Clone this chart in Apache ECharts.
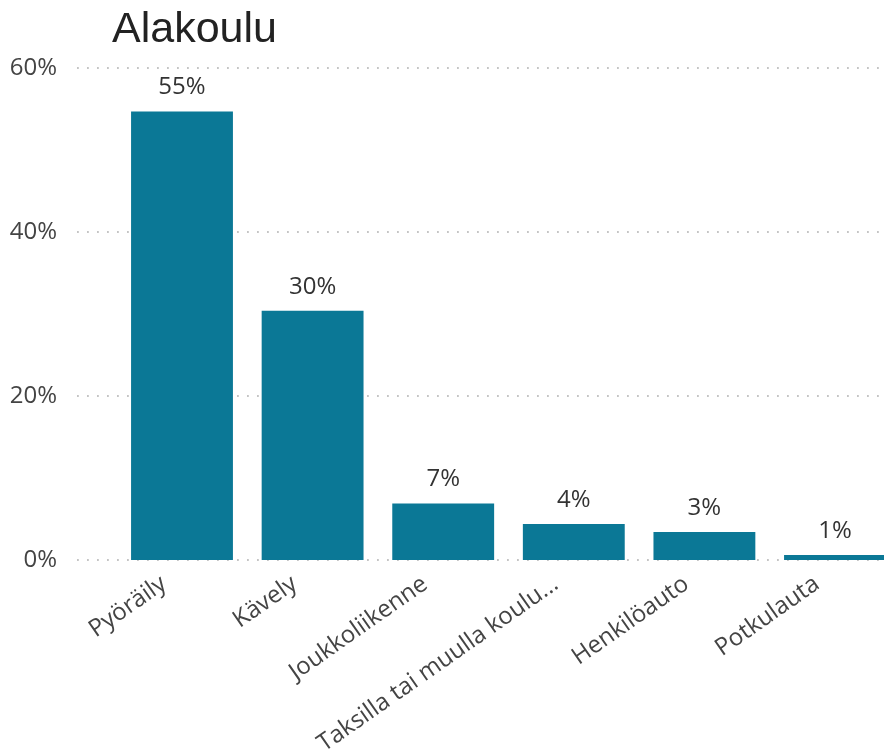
<!DOCTYPE html>
<html>
<head>
<meta charset="utf-8">
<script src="https://cdn.jsdelivr.net/npm/echarts@6/dist/echarts.min.js"></script>
<style>
html,body{margin:0;padding:0;background:#fff;}
#chart{width:884px;height:755px;}
</style>
</head>
<body>
<div id="chart"></div>
<script>
var titleText = 'Alakoulu';
var categories = ['Pyöräily', 'Kävely', 'Joukkoliikenne', 'Taksilla tai muulla koulu...', 'Henkilöauto', 'Potkulauta'];
var values = [54.7, 30.4, 6.9, 4.4, 3.4, 0.6];
var yTicks = [0, 20, 40, 60];

var font = '"Open Sans", "Noto Sans", sans-serif';
var chart = echarts.init(document.getElementById('chart'));
chart.setOption({
  animation: false,
  title: {
    text: titleText,
    left: 107,
    top: 4,
    textStyle: { fontFamily: '"Liberation Sans", Arial, sans-serif', fontSize: 43, fontWeight: 'normal', color: '#222' }
  },
  grid: [
    { left: 77, top: 68, right: -30, height: 492, containLabel: false, outerBoundsMode: 'none' },
    { left: 116.7, top: 68, right: -16.3, height: 492, containLabel: false, outerBoundsMode: 'none' }
  ],
  xAxis: [
    { type: 'value', gridIndex: 0, show: false, min: 0, max: 1 },
    {
      type: 'category', gridIndex: 1, data: categories,
      axisLine: { show: false }, axisTick: { show: false },
      axisLabel: { rotate: 35, fontSize: 24, color: '#444', fontFamily: font, margin: 9, interval: 0, padding: [0, 22, 0, 0] }
    }
  ],
  yAxis: [
    {
      type: 'value', gridIndex: 0, min: yTicks[0], max: yTicks[yTicks.length - 1], interval: yTicks[1] - yTicks[0],
      axisLine: { show: false }, axisTick: { show: false },
      axisLabel: { formatter: '{value}%', fontSize: 24, color: '#444', fontFamily: font, margin: 20 },
      splitLine: { show: true, lineStyle: { color: '#c4c4c4', width: 1.8, type: [1.8, 8.2] } }
    },
    {
      type: 'value', gridIndex: 1, min: yTicks[0], max: yTicks[yTicks.length - 1], show: false,
      splitLine: { show: false }
    }
  ],
  series: [{
    type: 'bar',
    xAxisIndex: 1, yAxisIndex: 1,
    data: values,
    barCategoryGap: '22%',
    itemStyle: { color: '#0B7896' },
    label: {
      show: true, position: 'top', distance: 12,
      formatter: function (p) { return Math.round(p.value) + '%'; },
      fontSize: 24, color: '#333', fontFamily: font
    }
  }]
});
</script>
</body>
</html>
